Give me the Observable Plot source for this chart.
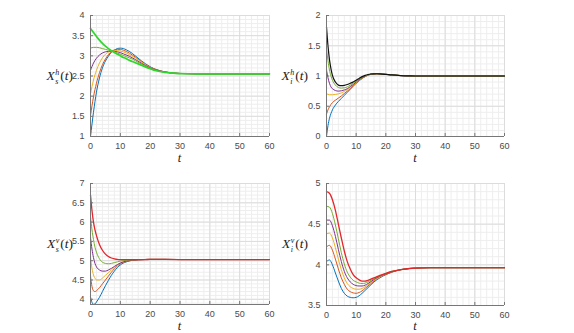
<!DOCTYPE html>
<html><head><meta charset="utf-8">
<script src="https://cdn.jsdelivr.net/npm/d3@7"></script>
<script src="https://cdn.jsdelivr.net/npm/@observablehq/plot@0.6"></script>
<style>
body{margin:0;background:#fff;}
#fig{position:relative;width:574px;height:333px;overflow:hidden;background:#fff;}
.panel{position:absolute;}
.ylab{position:absolute;font-family:"Liberation Serif","DejaVu Serif",serif;font-size:13.5px;color:#222;white-space:nowrap;transform:translateY(-50%);line-height:18px;}
.ss{display:inline-block;vertical-align:-4px;font-size:8px;line-height:9px;margin-left:0.5px;margin-right:1px;}
.ss i{display:block;}
.xlab{position:absolute;font-family:"Liberation Serif","DejaVu Serif",serif;font-style:italic;font-size:12.5px;line-height:12px;color:#222;transform:translate(-50%,-50%);}
</style></head>
<body><div id="fig"></div>
<script>
// ---------- data ----------
const tXsh = [0,1,2,3,4,5,6,7,8,9,10,11,12,13,14,15,17,20,22,25,28,30,35,40,50,60];
const XshA = [1.00,1.60,2.10,2.45,2.70,2.87,2.99,3.09,3.14,3.18,3.19,3.18,3.15,3.11,3.06,3.00,2.88,2.73,2.66,2.60,2.57,2.563,2.555,2.553,2.553,2.553];
const XshB = [1.52,1.98,2.32,2.58,2.78,2.92,3.03,3.11,3.145,3.16,3.16,3.14,3.11,3.07,3.02,2.97,2.86,2.72,2.66,2.60,2.57,2.563,2.555,2.553,2.553,2.553];
const XshC = [2.06,2.40,2.64,2.82,2.95,3.04,3.09,3.12,3.13,3.13,3.12,3.10,3.07,3.03,2.99,2.95,2.85,2.71,2.65,2.60,2.57,2.562,2.555,2.553,2.553,2.553];
const XshD = [2.64,2.82,2.94,3.02,3.07,3.10,3.11,3.12,3.11,3.10,3.08,3.05,3.02,2.99,2.95,2.91,2.82,2.70,2.65,2.60,2.57,2.562,2.555,2.553,2.553,2.553];
const XshE = [3.19,3.21,3.21,3.20,3.18,3.16,3.14,3.12,3.10,3.07,3.04,3.01,2.98,2.95,2.92,2.88,2.80,2.69,2.64,2.59,2.57,2.561,2.555,2.553,2.553,2.553];
const XshF = [3.68,3.58,3.48,3.39,3.31,3.24,3.18,3.13,3.08,3.04,3.00,2.96,2.93,2.89,2.86,2.83,2.77,2.68,2.63,2.59,2.57,2.56,2.555,2.553,2.553,2.553];

const tXih = [0,0.5,1,1.5,2,3,4,5,6,7,8,9,10,11,12,13,14,15,16,17,18,20,22,25,28,30,35,40,50,60];
const XihA = [0.00,0.18,0.30,0.38,0.44,0.52,0.58,0.63,0.68,0.73,0.78,0.83,0.88,0.92,0.96,0.99,1.015,1.03,1.035,1.037,1.035,1.027,1.017,1.007,1.002,1.0,1.0,1.0,1.0,1.0];
const XihB = [0.37,0.44,0.49,0.53,0.56,0.60,0.635,0.67,0.71,0.75,0.79,0.84,0.885,0.925,0.96,0.99,1.015,1.03,1.035,1.037,1.035,1.027,1.017,1.007,1.002,1.0,1.0,1.0,1.0,1.0];
const XihC = [0.71,0.695,0.69,0.69,0.69,0.695,0.705,0.72,0.745,0.775,0.81,0.85,0.89,0.93,0.965,0.995,1.017,1.03,1.035,1.037,1.035,1.027,1.017,1.007,1.002,1.0,1.0,1.0,1.0,1.0];
const XihD = [1.10,0.97,0.88,0.82,0.79,0.76,0.75,0.755,0.77,0.79,0.825,0.86,0.90,0.94,0.97,1.0,1.018,1.03,1.035,1.037,1.035,1.027,1.017,1.007,1.002,1.0,1.0,1.0,1.0,1.0];
const XihE = [1.45,1.25,1.10,1.00,0.93,0.85,0.81,0.80,0.805,0.82,0.85,0.88,0.915,0.95,0.98,1.005,1.02,1.032,1.036,1.037,1.035,1.027,1.017,1.007,1.002,1.0,1.0,1.0,1.0,1.0];
const XihF = [1.81,1.50,1.27,1.12,1.01,0.90,0.85,0.84,0.845,0.86,0.88,0.90,0.93,0.96,0.99,1.01,1.025,1.033,1.036,1.037,1.035,1.027,1.017,1.007,1.002,1.0,1.0,1.0,1.0,1.0];

const tXsv = [0,0.5,1,1.5,2,3,4,5,6,7,8,9,10,12,14,16,18,20,25,30,40,50,60];
const XsvA = [4.06,3.92,3.87,3.88,3.93,4.05,4.20,4.35,4.49,4.62,4.73,4.82,4.89,4.97,5.01,5.025,5.03,5.033,5.033,5.03,5.03,5.03,5.03];
const XsvB = [4.60,4.33,4.22,4.20,4.22,4.30,4.40,4.50,4.60,4.70,4.79,4.86,4.92,4.98,5.01,5.025,5.03,5.033,5.033,5.03,5.03,5.03,5.03];
const XsvC = [5.10,4.80,4.63,4.55,4.50,4.50,4.55,4.62,4.69,4.76,4.83,4.89,4.93,4.99,5.01,5.025,5.03,5.033,5.033,5.03,5.03,5.03,5.03];
const XsvD = [5.60,5.30,5.08,4.93,4.84,4.76,4.73,4.73,4.76,4.80,4.85,4.90,4.94,4.99,5.01,5.025,5.03,5.033,5.033,5.03,5.03,5.03,5.03];
const XsvE = [6.15,5.80,5.55,5.35,5.22,5.05,4.96,4.93,4.92,4.93,4.95,4.97,4.99,5.01,5.02,5.03,5.03,5.033,5.033,5.03,5.03,5.03,5.03];
const XsvF = [6.70,6.30,6.00,5.80,5.65,5.42,5.27,5.17,5.11,5.07,5.05,5.035,5.03,5.03,5.03,5.03,5.03,5.033,5.033,5.03,5.03,5.03,5.03];

const tXiv = [0,1,2,3,4,5,6,7,8,9,10,11,12,13,14,16,18,20,22,25,28,30,35,40,50,60];
const XivA = [4.04,4.06,4.00,3.90,3.80,3.71,3.65,3.615,3.60,3.595,3.60,3.62,3.65,3.685,3.72,3.79,3.84,3.88,3.91,3.94,3.955,3.96,3.965,3.965,3.965,3.965];
const XivB = [4.22,4.24,4.18,4.07,3.95,3.84,3.76,3.70,3.67,3.655,3.65,3.66,3.68,3.71,3.74,3.80,3.85,3.88,3.91,3.94,3.955,3.96,3.965,3.965,3.965,3.965];
const XivC = [4.38,4.39,4.33,4.21,4.07,3.94,3.84,3.77,3.73,3.71,3.70,3.70,3.71,3.73,3.755,3.81,3.85,3.89,3.915,3.94,3.955,3.96,3.965,3.965,3.965,3.965];
const XivD = [4.55,4.55,4.48,4.35,4.19,4.04,3.92,3.84,3.79,3.76,3.745,3.74,3.74,3.75,3.77,3.82,3.86,3.89,3.915,3.94,3.955,3.96,3.965,3.965,3.965,3.965];
const XivE = [4.72,4.71,4.63,4.49,4.32,4.15,4.01,3.91,3.85,3.81,3.79,3.775,3.77,3.775,3.79,3.83,3.865,3.895,3.92,3.94,3.955,3.96,3.965,3.965,3.965,3.965];
const XivF = [4.90,4.88,4.80,4.67,4.50,4.33,4.17,4.04,3.95,3.88,3.84,3.815,3.80,3.80,3.81,3.84,3.87,3.895,3.92,3.94,3.955,3.96,3.965,3.965,3.965,3.965];

const xTicks = [0,10,20,30,40,50,60];
const baseColors = ["#0072BD","#D95319","#EDB120","#7E2F8E","#77AC30"];

// ---------- helpers ----------
function panel(o){
  const rows = o.series.flatMap((vals,k)=>vals.map((v,j)=>({t:o.t[j], y:v, k})));
  const plotW = o.W - o.ml - o.mr, plotH = o.H - o.mt - o.mb;
  const yMajor = d3.range(o.ymaj[0], o.ymaj[1]+1e-9, 0.5);
  const yMinor = d3.range(Math.ceil(o.ydom[0]*10)/10, o.ydom[1]+1e-9, 0.1).map(v=>+v.toFixed(2));
  const xMinor = d3.range(0, 60.001, 2);
  const lines = o.series.map((_,k)=>Plot.line(rows.filter(d=>d.k===k), {
    x:"t", y:"y", stroke:o.colors[k], strokeWidth:o.widths[k], curve:"monotone-x"}));
  const chart = Plot.plot({
    width:o.W, height:o.H, marginLeft:o.ml, marginRight:o.mr, marginTop:o.mt, marginBottom:o.mb,
    x:{domain:[0,60]}, y:{domain:o.ydom},
    style:{fontFamily:"'Liberation Sans',Arial,sans-serif", fontSize:"9px", color:"#4a4a4a", background:"transparent"},
    marks:[
      Plot.ruleX(xMinor,{stroke:"#eeeeee"}),
      Plot.ruleY(yMinor,{stroke:"#eeeeee"}),
      Plot.ruleX(xTicks,{stroke:"#dcdcdc"}),
      Plot.ruleY(yMajor,{stroke:"#dcdcdc"}),
      ...lines,
      Plot.ruleX([0],{stroke:"#777"}),
      Plot.ruleY([o.ydom[0]],{stroke:"#777"}),
      Plot.tickX(xTicks,{stroke:"#777", insetTop:plotH-3}),
      Plot.tickY(yMajor,{stroke:"#777", insetRight:plotW-3}),
      Plot.axisX(xTicks,{anchor:"bottom", tickSize:0, tickPadding:6, label:null, tickFormat:d=>String(d)}),
      Plot.axisY(yMajor,{anchor:"left", tickSize:0, tickPadding:6, label:null, tickFormat:d=>String(+d.toFixed(1))})
    ]
  });
  chart.classList.add("panel");
  chart.style.left = o.left+"px"; chart.style.top = o.top+"px";
  document.getElementById("fig").appendChild(chart);
  const yl = document.createElement("div");
  yl.className="ylab";
  yl.innerHTML = `<i>X</i><span class="ss"><i>${o.sup}</i><i>${o.sub}</i></span>(<i>t</i>)`;
  yl.style.right = (574 - o.labRight)+"px"; yl.style.top = o.labY+"px";
  document.getElementById("fig").appendChild(yl);
  const xl = document.createElement("div");
  xl.className="xlab"; xl.textContent="t";
  xl.style.left = (o.left+o.ml+plotW/2)+"px"; xl.style.top = o.tY+"px";
  document.getElementById("fig").appendChild(xl);
}

panel({t:tXsh, series:[XshA,XshB,XshC,XshD,XshE,XshF], colors:[...baseColors,"#2ed62e"], widths:[1,1,1,1,1,1.7],
  ydom:[1,4], ymaj:[1,4], left:0, top:0, W:287, H:166, ml:90, mr:18, mt:15, mb:30, sup:"h", sub:"s", labRight:73, labY:76, tY:158});
panel({t:tXih, series:[XihA,XihB,XihC,XihD,XihE,XihF], colors:[...baseColors,"#111111"], widths:[1,1,1,1,1,1.2],
  ydom:[0,2], ymaj:[0,2], left:287, top:0, W:287, H:166, ml:39, mr:70, mt:15, mb:30, sup:"h", sub:"i", labRight:308, labY:76, tY:158});
panel({t:tXsv, series:[XsvA,XsvB,XsvC,XsvD,XsvE,XsvF], colors:[...baseColors,"#e3262b"], widths:[1,1,1,1,1,1.3],
  ydom:[3.865,7], ymaj:[4,7], left:0, top:166, W:287, H:167, ml:90, mr:18, mt:17, mb:29, sup:"v", sub:"s", labRight:73, labY:244, tY:326});
panel({t:tXiv, series:[XivA,XivB,XivC,XivD,XivE,XivF], colors:[...baseColors,"#e3262b"], widths:[1,1,1,1,1,1.3],
  ydom:[3.5,5], ymaj:[3.5,5], left:287, top:166, W:287, H:167, ml:39, mr:70, mt:17, mb:28, sup:"v", sub:"i", labRight:308, labY:244, tY:326});
</script>
</body></html>
